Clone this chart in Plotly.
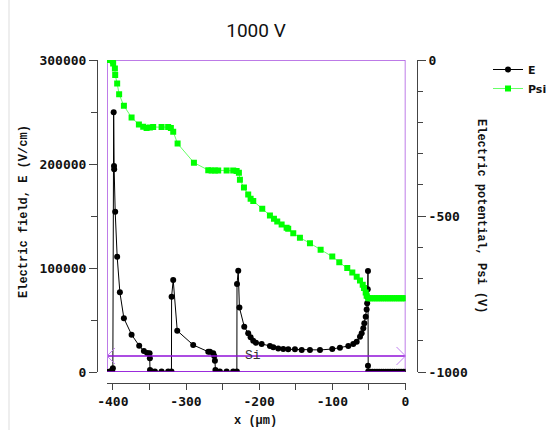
import plotly.graph_objects as go

# Electric field E (V/cm) along x (um)
x_e = [-408, -404, -401, -400, -398.9, -398.4, -398.2, -396.8, -394.1, -390.4,
       -384.9, -374.4, -364.0, -357.6, -353.1, -349.8, -349.4, -349.2, -347.0, -342.5,
       -333.4, -324.4, -319.9, -319.7, -317.5, -312.0, -290.2, -269.6, -267.3, -262.8,
       -261.4, -260.5, -259.8, -258.2, -253.7, -244.5, -235.5, -230.5, -230.3, -228.6,
       -227.0, -220.4, -215.0, -211.7, -208.1, -204.4, -196.6, -185.3, -180.7, -173.9,
       -167.1, -160.3, -151.1, -141.9, -130.6, -116.9, -100.1, -89.6, -78.2, -71.4,
       -66.7, -62.2, -59.9, -57.7, -56.3, -54.4, -53.1, -52.4, -51.9, -51.6,
       -51.3, -51.3, -51.0, -48, -45, -42, -39, -36, -33, -30,
       -27, -24, -21, -18, -15, -12, -9, -6, -3, 0]
e_field = [0, 500, 1500, 3500, 249700, 198000, 194900, 154100, 110900, 76600,
           51600, 35900, 25300, 20200, 18300, 18000, 13200, 2000, 600, 500,
           500, 500, 600, 72400, 88500, 39700, 26000, 19500, 19500, 18000,
           15400, 10900, 1900, 600, 500, 500, 500, 600, 84600, 97400,
           62000, 43600, 37200, 33400, 30100, 28200, 26900, 25000, 23700, 22700,
           22100, 21800, 21800, 21200, 21200, 21200, 22100, 23400, 25000, 26900,
           29100, 34000, 37200, 42000, 46800, 53200, 60000, 66000, 72000, 79500,
           97100, 6100, 500, 300, 300, 300, 300, 300, 300, 300,
           300, 300, 300, 300, 300, 300, 300, 300, 300, 300]

# Electric potential Psi (V)
x_psi = [-408, -405, -402, -400, -399.6, -397.2, -396.8, -394.1, -391.4, -384.9,
         -374.4, -364.4, -358.5, -353.9, -349.4, -344.9, -333.4, -324.4, -320.7, -317.5,
         -311.5, -289.2, -269.6, -265.0, -260.5, -256.0, -244.5, -235.5, -230.8, -227.7,
         -226.3, -220.8, -215.0, -211.7, -208.1, -195.8, -185.3, -179.8, -175.3, -169.3,
         -162.5, -160.3, -153.4, -144.3, -130.6, -116.0, -100.1, -90.5, -79.6, -72.7,
         -66.7, -62.2, -58.5, -56.7, -54.4, -53.1, -50.9, -48, -45, -42,
         -39, -36, -33, -30, -27, -24, -21, -18, -15, -12,
         -9, -6, -3, 0]
psi = [0, 0, 0, -3, -11, -27, -48, -75, -110, -147,
       -184, -207, -214, -218, -216, -215, -215, -215, -218, -230,
       -268, -329, -353, -354, -354, -354, -354, -354, -356, -361,
       -384, -409, -431, -445, -452, -477, -498, -509, -518, -527,
       -538, -541, -555, -570, -587, -608, -630, -648, -667, -681,
       -695, -707, -720, -731, -745, -756, -764, -764, -764, -764,
       -764, -764, -764, -764, -764, -764, -764, -764, -764, -764,
       -764, -764, -764, -764]

x_ticks = [-400, -300, -200, -100, 0]
x_minor = [-350, -250, -150, -50]
e_ticks = [0, 100000, 200000, 300000]
e_minor = [50000, 150000, 250000]
psi_ticks = [0, -500, -1000]
psi_minor = [-100, -200, -300, -400, -600, -700, -800, -900]

si_level = 15400  # Si region marker height (V/cm)

W, H = 551, 430
ML, MR, MT, MB = 80, 120, 60, 40
PW, PH = W - ML - MR, H - MT - MB


def px_x(p):
    return (p - ML) / PW


def px_y(p):
    return (H - MB - p) / PH


axis_col = "#444444"
tick_font = dict(family="DejaVu Sans Mono", size=13, color="#111111", weight="bold")
title_font = dict(family="Liberation Mono", size=12, color="#111111", weight="bold")

fig = go.Figure()
fig.add_trace(go.Scatter(
    x=x_e, y=e_field, name="E", mode="lines+markers",
    line=dict(color="black", width=1),
    marker=dict(symbol="circle", size=6, color="black"),
))
fig.add_trace(go.Scatter(
    x=x_psi, y=psi, name="Psi", mode="lines+markers", yaxis="y2",
    line=dict(color="#66ff66", width=1),
    marker=dict(symbol="square", size=6, color="#00ff00"),
))

fig.update_layout(
    width=W, height=H,
    margin=dict(l=ML, r=MR, t=MT, b=MB),
    paper_bgcolor="white", plot_bgcolor="white",
    title=dict(text="1000 V", x=px_x(256), xref="paper", xanchor="center",
               y=1 - 30 / H, yanchor="middle",
               font=dict(family="Roboto", size=19, color="#111111")),
    xaxis=dict(
        domain=[px_x(107), px_x(405.5)], range=[-408, 0],
        anchor="free", position=px_y(383),
        showgrid=False, zeroline=False, showline=True, linecolor=axis_col, linewidth=1,
        ticks="outside", ticklen=6, tickcolor=axis_col,
        tickvals=x_ticks, ticktext=[str(v) for v in x_ticks],
        minor=dict(tickvals=x_minor, ticks="outside", ticklen=6, tickcolor=axis_col),
        tickfont=tick_font, automargin=False,
    ),
    yaxis=dict(
        domain=[px_y(372), 1], range=[0, 300000],
        anchor="free", position=px_x(97),
        showgrid=False, zeroline=False, showline=True, linecolor=axis_col, linewidth=1,
        ticks="outside", ticklen=8, tickcolor=axis_col,
        tickvals=e_ticks, ticktext=[str(v) for v in e_ticks],
        minor=dict(tickvals=e_minor, ticks="outside", ticklen=6, tickcolor=axis_col),
        tickfont=tick_font, automargin=False,
    ),
    yaxis2=dict(
        domain=[px_y(372), 1], range=[-1000, 0], overlaying="y", side="right",
        anchor="free", position=px_x(417),
        showgrid=False, zeroline=False, showline=True, linecolor=axis_col, linewidth=1,
        ticks="outside", ticklen=8, tickcolor=axis_col,
        tickvals=psi_ticks, ticktext=[str(v) for v in psi_ticks],
        minor=dict(tickvals=psi_minor, ticks="outside", ticklen=5, tickcolor=axis_col),
        tickfont=tick_font, automargin=False,
    ),
    legend=dict(
        xref="container", yref="container", x=488 / W, y=1 - 55 / H,
        xanchor="left", yanchor="top", bgcolor="rgba(0,0,0,0)",
        font=dict(family="DejaVu Sans", size=11, color="#111111", weight="bold"),
        itemwidth=30, tracegroupgap=0,
    ),
    showlegend=True,
)

# plot frame and the Si region marker
frame_col = "#a850e0"
si_col = "#9010d8"
fig.add_shape(type="rect", xref="x", yref="y", x0=-408, x1=0, y0=0, y1=300000,
              line=dict(color=frame_col, width=1.5), layer="below")
fig.add_shape(type="line", xref="x", yref="y", x0=-408, x1=0, y0=0, y1=0,
              line=dict(color=si_col, width=1.5))
fig.add_shape(type="line", xref="x", yref="y", x0=-408, x1=0, y0=si_level, y1=si_level,
              line=dict(color=si_col, width=1.5))
fig.add_shape(type="path", xref="x", yref="y", xsizemode="pixel", ysizemode="pixel",
              xanchor=-408, yanchor=si_level, path="M 8,8 L 0,0 L 8,-8",
              line=dict(color="#c080f0", width=1))
fig.add_shape(type="path", xref="x", yref="y", xsizemode="pixel", ysizemode="pixel",
              xanchor=0, yanchor=si_level, path="M -9,9 L 0,0 L -9,-9",
              line=dict(color="#c080f0", width=1))
# light panel border at far left
fig.add_shape(type="line", xref="paper", yref="paper", x0=px_x(9), x1=px_x(9),
              y0=px_y(0), y1=px_y(H), line=dict(color="#dddddd", width=1))

fig.add_annotation(x=-208, y=si_level, xref="x", yref="y", text="Si", showarrow=False,
                   font=dict(family="Liberation Mono", size=13, color="#333333"))
fig.add_annotation(x=px_x(24), y=px_y(212), xref="paper", yref="paper",
                   xanchor="center", yanchor="middle",
                   text="Electric field, E (V/cm)", textangle=-90, showarrow=False,
                   font=title_font)
fig.add_annotation(x=px_x(481), y=px_y(216), xref="paper", yref="paper",
                   xanchor="center", yanchor="middle",
                   text="Electric potential, Psi (V)", textangle=90, showarrow=False,
                   font=title_font)
fig.add_annotation(x=px_x(255), y=px_y(421), xref="paper", yref="paper",
                   xanchor="center", yanchor="middle",
                   text="x (\u00b5m)", showarrow=False, font=title_font)

fig.write_html("out.html", config={"displayModeBar": False},
               post_script="document.body.style.margin = '0';")
